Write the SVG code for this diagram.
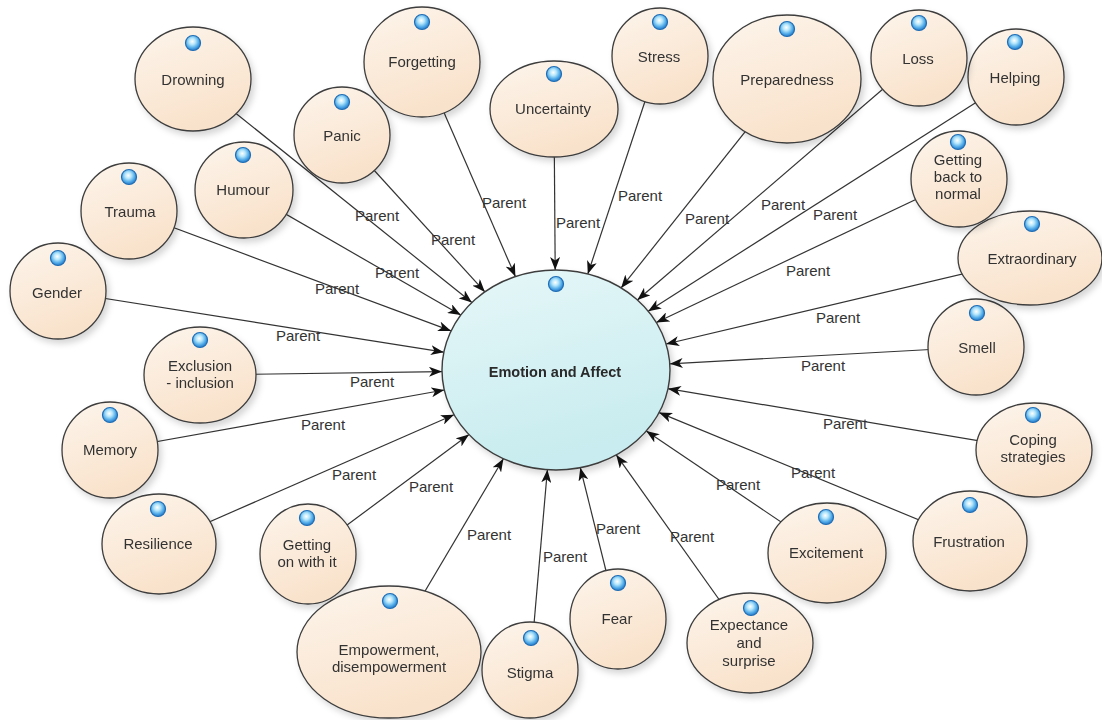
<svg xmlns="http://www.w3.org/2000/svg" width="1102" height="720" viewBox="0 0 1102 720">
  <defs>
    <style>
      .node ellipse.body { fill: url(#peach); stroke: #3d3d3d; stroke-width: 1.3; }
      .center ellipse.body { fill: url(#aqua); stroke: #3d3d3d; stroke-width: 1.4; }
      .node, .center { filter: url(#shadow); }
      .dot { fill: url(#bead); stroke: #1f6db5; stroke-width: 1.2; }
      text { font-family: "Liberation Sans", Arial, sans-serif; font-size: 15px; fill: #333; text-anchor: middle; }
      .title { font-weight: bold; font-size: 14.5px; fill: #2a2a2a; }
      .edge line { stroke: #333; stroke-width: 1.2; marker-end: url(#arrow); }
    </style>
    <linearGradient id="peach" x1="0" y1="0" x2="0.4" y2="1">
      <stop offset="0" stop-color="#fdf5ec"/>
      <stop offset="1" stop-color="#f9e2cb"/>
    </linearGradient>
    <linearGradient id="aqua" x1="0" y1="0" x2="0.3" y2="1">
      <stop offset="0" stop-color="#e6f7f8"/>
      <stop offset="1" stop-color="#c8ecef"/>
    </linearGradient>
    <radialGradient id="bead" cx="0.45" cy="0.4" r="0.6">
      <stop offset="0" stop-color="#ffffff"/>
      <stop offset="0.35" stop-color="#b5e6fb"/>
      <stop offset="0.75" stop-color="#4aa6e6"/>
      <stop offset="1" stop-color="#2a78c4"/>
    </radialGradient>
    <filter id="shadow" x="-20%" y="-20%" width="150%" height="150%">
      <feDropShadow dx="3" dy="4" stdDeviation="3" flood-color="#000" flood-opacity="0.16"/>
    </filter>
    <marker id="arrow" viewBox="0 0 13 10" refX="13" refY="5" markerWidth="13" markerHeight="10" markerUnits="userSpaceOnUse" orient="auto">
      <path d="M0,0 L13,5 L0,10 L3.5,5 Z" fill="#111"/>
    </marker>
  </defs>

  <rect width="1102" height="720" fill="#ffffff"/>

  <!-- connectors: each runs from a node centre to the rim of the central ellipse -->
  <g id="connectors" class="edge">
    <line x1="193" y1="79" x2="471.9" y2="302.5"/>
    <line x1="422" y1="62" x2="515.4" y2="276.6"/>
    <line x1="342" y1="135" x2="484.9" y2="291.9"/>
    <line x1="244" y1="190" x2="460.8" y2="315.1"/>
    <line x1="129" y1="211" x2="451.1" y2="330.9"/>
    <line x1="58" y1="291" x2="443.8" y2="352.2"/>
    <line x1="200" y1="375" x2="442" y2="371.6"/>
    <line x1="110" y1="450" x2="444.3" y2="390"/>
    <line x1="159" y1="544" x2="454" y2="414.7"/>
    <line x1="308" y1="554" x2="469" y2="434.6"/>
    <line x1="389" y1="652" x2="503.4" y2="458.7"/>
    <line x1="530" y1="670" x2="547.4" y2="469.7"/>
    <line x1="618" y1="619" x2="580.3" y2="467.7"/>
    <line x1="750" y1="643" x2="616.3" y2="454.9"/>
    <line x1="827" y1="553" x2="646.3" y2="431"/>
    <line x1="970" y1="541" x2="659.1" y2="412.6"/>
    <line x1="1034" y1="450" x2="668" y2="388.7"/>
    <line x1="976" y1="347" x2="669.8" y2="363.8"/>
    <line x1="1030" y1="258" x2="666.1" y2="344"/>
    <line x1="959" y1="179" x2="656.3" y2="322.5"/>
    <line x1="1016" y1="77" x2="648.2" y2="311.2"/>
    <line x1="919" y1="58" x2="637.4" y2="300"/>
    <line x1="787" y1="79" x2="621.1" y2="287.9"/>
    <line x1="660" y1="56" x2="587.8" y2="274"/>
    <line x1="554" y1="109" x2="555.2" y2="270"/>
  </g>

  <!-- connector labels -->
  <g id="connector-labels">
    <text x="377" y="221">Parent</text>
    <text x="504" y="208">Parent</text>
    <text x="453" y="245">Parent</text>
    <text x="397" y="278">Parent</text>
    <text x="337" y="294">Parent</text>
    <text x="298" y="341">Parent</text>
    <text x="372" y="387">Parent</text>
    <text x="323" y="430">Parent</text>
    <text x="354" y="480">Parent</text>
    <text x="431" y="492">Parent</text>
    <text x="489" y="540">Parent</text>
    <text x="565" y="562">Parent</text>
    <text x="618" y="534">Parent</text>
    <text x="692" y="542">Parent</text>
    <text x="738" y="490">Parent</text>
    <text x="813" y="478">Parent</text>
    <text x="845" y="429">Parent</text>
    <text x="823" y="371">Parent</text>
    <text x="838" y="323">Parent</text>
    <text x="808" y="276">Parent</text>
    <text x="835" y="220">Parent</text>
    <text x="783" y="210">Parent</text>
    <text x="707" y="224">Parent</text>
    <text x="640" y="201">Parent</text>
    <text x="578" y="228">Parent</text>
  </g>

  <!-- central topic -->
  <g id="emotion-and-affect" class="center">
    <ellipse class="body" cx="556" cy="370" rx="114" ry="100"/>
    <circle class="dot" cx="556" cy="284" r="7.5"/>
    <text class="title" x="555" y="377">Emotion and Affect</text>
  </g>

  <g id="drowning" class="node">
    <ellipse class="body" cx="193" cy="79" rx="58" ry="52"/>
    <circle class="dot" cx="193" cy="43" r="7.5"/>
    <text x="193" y="85">Drowning</text>
  </g>
  <g id="forgetting" class="node">
    <ellipse class="body" cx="422" cy="62" rx="58" ry="55"/>
    <circle class="dot" cx="422" cy="22" r="7.5"/>
    <text x="422" y="67">Forgetting</text>
  </g>
  <g id="panic" class="node">
    <ellipse class="body" cx="342" cy="135" rx="48" ry="48"/>
    <circle class="dot" cx="342" cy="102" r="7.5"/>
    <text x="342" y="141">Panic</text>
  </g>
  <g id="humour" class="node">
    <ellipse class="body" cx="244" cy="190" rx="49" ry="48"/>
    <circle class="dot" cx="243" cy="155" r="7.5"/>
    <text x="243" y="195">Humour</text>
  </g>
  <g id="trauma" class="node">
    <ellipse class="body" cx="129" cy="211" rx="48" ry="48"/>
    <circle class="dot" cx="129" cy="177" r="7.5"/>
    <text x="130" y="217">Trauma</text>
  </g>
  <g id="gender" class="node">
    <ellipse class="body" cx="58" cy="291" rx="48" ry="48"/>
    <circle class="dot" cx="58" cy="258" r="7.5"/>
    <text x="57" y="298">Gender</text>
  </g>
  <g id="exclusion-inclusion" class="node">
    <ellipse class="body" cx="200" cy="375" rx="56" ry="48"/>
    <circle class="dot" cx="200" cy="340" r="7.5"/>
    <text x="200" y="371">Exclusion</text>
    <text x="200" y="388">- inclusion</text>
  </g>
  <g id="memory" class="node">
    <ellipse class="body" cx="110" cy="450" rx="48" ry="48"/>
    <circle class="dot" cx="110" cy="415" r="7.5"/>
    <text x="110" y="455">Memory</text>
  </g>
  <g id="resilience" class="node">
    <ellipse class="body" cx="159" cy="544" rx="57" ry="50"/>
    <circle class="dot" cx="158" cy="509" r="7.5"/>
    <text x="158" y="549">Resilience</text>
  </g>
  <g id="getting-on-with-it" class="node">
    <ellipse class="body" cx="308" cy="554" rx="48" ry="50"/>
    <circle class="dot" cx="307" cy="518" r="7.5"/>
    <text x="307" y="550">Getting</text>
    <text x="307" y="567">on with it</text>
  </g>
  <g id="empowerment" class="node">
    <ellipse class="body" cx="389" cy="652" rx="92" ry="66"/>
    <circle class="dot" cx="390" cy="601" r="7.5"/>
    <text x="389" y="655">Empowerment,</text>
    <text x="389" y="672">disempowerment</text>
  </g>
  <g id="stigma" class="node">
    <ellipse class="body" cx="530" cy="670" rx="48" ry="48"/>
    <circle class="dot" cx="531" cy="638" r="7.5"/>
    <text x="530" y="678">Stigma</text>
  </g>
  <g id="fear" class="node">
    <ellipse class="body" cx="618" cy="619" rx="48" ry="50"/>
    <circle class="dot" cx="618" cy="583" r="7.5"/>
    <text x="617" y="624">Fear</text>
  </g>
  <g id="expectance-and-surprise" class="node">
    <ellipse class="body" cx="750" cy="643" rx="63" ry="50"/>
    <circle class="dot" cx="751" cy="608" r="7.5"/>
    <text x="749" y="630">Expectance</text>
    <text x="749" y="648">and</text>
    <text x="749" y="666">surprise</text>
  </g>
  <g id="excitement" class="node">
    <ellipse class="body" cx="827" cy="553" rx="59" ry="50"/>
    <circle class="dot" cx="826" cy="517" r="7.5"/>
    <text x="826" y="558">Excitement</text>
  </g>
  <g id="frustration" class="node">
    <ellipse class="body" cx="970" cy="541" rx="57" ry="50"/>
    <circle class="dot" cx="970" cy="505" r="7.5"/>
    <text x="969" y="547">Frustration</text>
  </g>
  <g id="coping-strategies" class="node">
    <ellipse class="body" cx="1034" cy="450" rx="58" ry="47"/>
    <circle class="dot" cx="1033" cy="415" r="7.5"/>
    <text x="1033" y="445">Coping</text>
    <text x="1033" y="462">strategies</text>
  </g>
  <g id="smell" class="node">
    <ellipse class="body" cx="976" cy="347" rx="48" ry="48"/>
    <circle class="dot" cx="977" cy="313" r="7.5"/>
    <text x="977" y="353">Smell</text>
  </g>
  <g id="extraordinary" class="node">
    <ellipse class="body" cx="1030" cy="258" rx="72" ry="47"/>
    <circle class="dot" cx="1032" cy="224" r="7.5"/>
    <text x="1032" y="264">Extraordinary</text>
  </g>
  <g id="getting-back-to-normal" class="node">
    <ellipse class="body" cx="959" cy="179" rx="48" ry="48"/>
    <text x="958" y="165">Getting</text>
    <text x="958" y="182">back to</text>
    <text x="958" y="199">normal</text>
    <circle class="dot" cx="958" cy="142" r="7.5"/>
  </g>
  <g id="helping" class="node">
    <ellipse class="body" cx="1016" cy="77" rx="48" ry="48"/>
    <circle class="dot" cx="1015" cy="42" r="7.5"/>
    <text x="1015" y="83">Helping</text>
  </g>
  <g id="loss" class="node">
    <ellipse class="body" cx="919" cy="58" rx="48" ry="48"/>
    <circle class="dot" cx="919" cy="23" r="7.5"/>
    <text x="918" y="64">Loss</text>
  </g>
  <g id="preparedness" class="node">
    <ellipse class="body" cx="787" cy="79" rx="74" ry="64"/>
    <circle class="dot" cx="787" cy="29" r="7.5"/>
    <text x="787" y="85">Preparedness</text>
  </g>
  <g id="stress" class="node">
    <ellipse class="body" cx="660" cy="56" rx="48" ry="48"/>
    <circle class="dot" cx="660" cy="22" r="7.5"/>
    <text x="659" y="62">Stress</text>
  </g>
  <g id="uncertainty" class="node">
    <ellipse class="body" cx="554" cy="109" rx="64" ry="48"/>
    <circle class="dot" cx="554" cy="74" r="7.5"/>
    <text x="553" y="114">Uncertainty</text>
  </g>
</svg>
